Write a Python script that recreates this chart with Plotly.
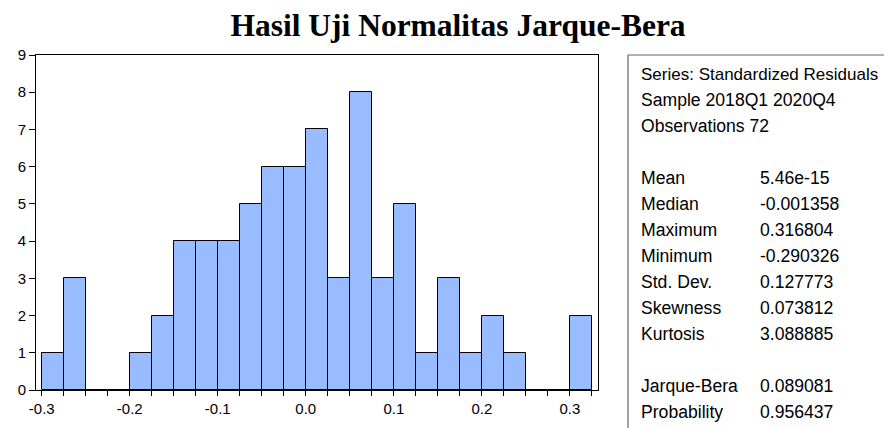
import plotly.graph_objects as go

# Histogram bins (left edges) and counts of standardized residuals
bin_lefts = [-0.300, -0.275, -0.250, -0.225, -0.200, -0.175, -0.150, -0.125,
             -0.100, -0.075, -0.050, -0.025, 0.000, 0.025, 0.050, 0.075,
             0.100, 0.125, 0.150, 0.175, 0.200, 0.225, 0.250, 0.275, 0.300]
counts = [1, 3, 0, 0, 1, 2, 4, 4,
          4, 5, 6, 6, 7, 3, 8, 3,
          5, 1, 3, 1, 2, 1, 0, 0, 2]
bin_width = 0.025

title_text = "Hasil Uji Normalitas Jarque-Bera"
header_lines = ["Series: Standardized Residuals", "Sample 2018Q1 2020Q4", "Observations 72"]
stat_labels = ["Mean", "Median", "Maximum", "Minimum", "Std. Dev.", "Skewness", "Kurtosis"]
stat_values = ["5.46e-15", "-0.001358", "0.316804", "-0.290326", "0.127773", "0.073812", "3.088885"]
test_labels = ["Jarque-Bera", "Probability"]
test_values = ["0.089081", "0.956437"]

W, H = 892, 428
OFF = 8  # page body margin offset
L, R, T, B = 36 - OFF, 598 - OFF, 55 - OFF, 390 - OFF  # plot area in figure pixels

fig = go.Figure()
fig.add_trace(go.Bar(
    x=bin_lefts, y=counts, width=bin_width, offset=0,
    marker=dict(color="#99BBFF", line=dict(color="#000000", width=1)),
    hoverinfo="x+y",
))

def px_to_paper_x(px):
    return (px - OFF - L) / (R - L)

def px_to_paper_y(py):
    return (B - (py - OFF)) / (B - T)

annotations = []
font = dict(family="Liberation Sans, Arial", size=17.6, color="#000000")
font_long = dict(family="Liberation Sans, Arial", size=17.0, color="#000000")
row_y0 = 74
row_h = 26
rows = []
for i, t in enumerate(header_lines):
    rows.append((i, t, None))
for j, (lab, val) in enumerate(zip(stat_labels, stat_values)):
    rows.append((4 + j, lab, val))
for k, (lab, val) in enumerate(zip(test_labels, test_values)):
    rows.append((12 + k, lab, val))

for idx, lab, val in rows:
    y = px_to_paper_y(row_y0 + idx * row_h)
    annotations.append(dict(x=px_to_paper_x(639), y=y, xref="paper", yref="paper",
                            text=lab, showarrow=False, xanchor="left", yanchor="middle",
                            font=font_long if idx == 0 else font))
    if val is not None:
        annotations.append(dict(x=px_to_paper_x(758), y=y, xref="paper", yref="paper",
                                text=val, showarrow=False, xanchor="left", yanchor="middle",
                                font=font))

shapes = [
    dict(type="line", xref="paper", yref="paper",
         x0=px_to_paper_x(628), x1=px_to_paper_x(628),
         y0=px_to_paper_y(440), y1=px_to_paper_y(55),
         line=dict(color="#666666", width=1.2)),
    dict(type="line", xref="paper", yref="paper",
         x0=px_to_paper_x(628), x1=px_to_paper_x(910),
         y0=px_to_paper_y(55), y1=px_to_paper_y(55),
         line=dict(color="#666666", width=1.2)),
]

fig.update_layout(
    width=W, height=H,
    margin=dict(l=L, r=W - R, t=T, b=H - B, pad=0, autoexpand=False),
    paper_bgcolor="white", plot_bgcolor="white",
    showlegend=False,
    bargap=0,
    title=dict(text="<b>" + title_text + "</b>", x=(458 - OFF) / W, xanchor="center",
               yref="container", y=1 - (26 - OFF - 1) / H, yanchor="middle",
               font=dict(family="Liberation Serif, Times New Roman", size=31.5, color="#000000")),
    annotations=annotations,
    shapes=shapes,
    xaxis=dict(range=[-0.3065, 0.332], tickmode="array", automargin=False,
               tickvals=[-0.3, -0.2, -0.1, 0.0, 0.1, 0.2, 0.3],
               ticktext=["-0.3", "-0.2", "-0.1", "0.0", "0.1", "0.2", "0.3"],
               ticks="outside", ticklen=5, tickwidth=1, tickcolor="#000000",
               minor=dict(tickmode="array",
                          tickvals=[round(-0.3 + 0.025 * i, 3) for i in range(26)],
                          ticks="outside", ticklen=5, tickwidth=1, tickcolor="#000000"),
               showline=True, linecolor="#000000", linewidth=1, mirror=True,
               showgrid=False, zeroline=False,
               tickfont=dict(family="Liberation Sans, Arial", size=15, color="#000000")),
    yaxis=dict(range=[0, 9], dtick=1, tick0=0, automargin=False,
               ticks="outside", ticklen=6, tickwidth=1, tickcolor="#000000",
               showline=True, linecolor="#000000", linewidth=1, mirror=True,
               showgrid=False, zeroline=False,
               tickfont=dict(family="Liberation Sans, Arial", size=15, color="#000000")),
)

fig.write_html("out.html")
